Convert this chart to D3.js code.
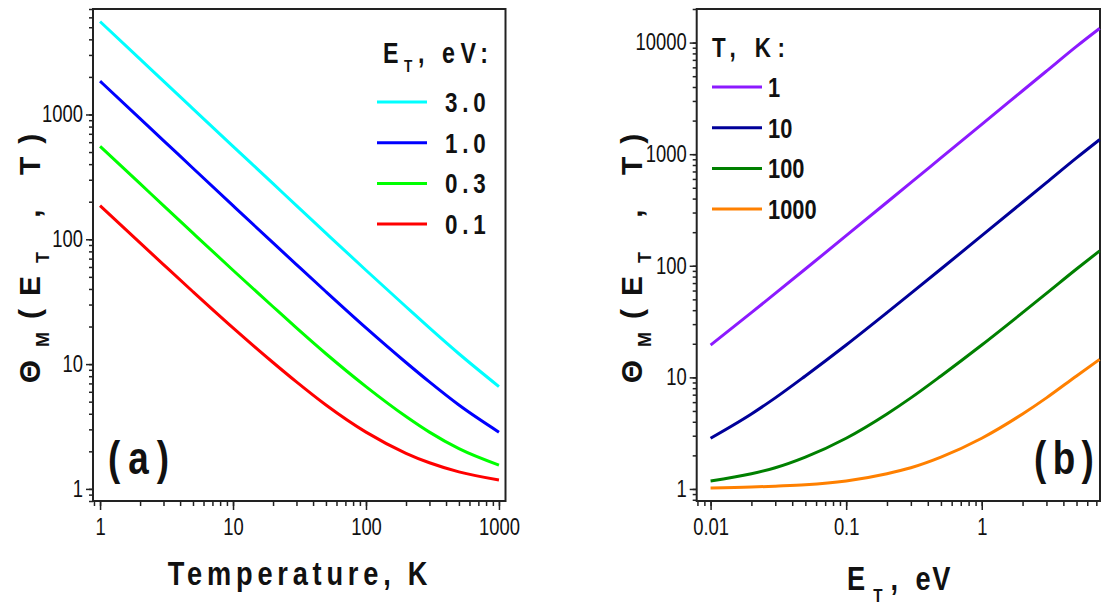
<!DOCTYPE html>
<html><head><meta charset="utf-8">
<script src="https://cdn.jsdelivr.net/npm/d3@7"></script>
<style>
body{margin:0;background:#fff;}
svg{display:block;}
.tick text{font-family:"Liberation Sans","Arial",sans-serif;font-size:23px;fill:#111;}
.bold{font-family:"Liberation Sans","Arial",sans-serif;font-weight:bold;fill:#111;}
.ylab{font-family:"Liberation Sans","Arial",sans-serif;font-weight:bold;fill:#111;}
</style></head>
<body>
<script>
// ---- data ----
const tempK = [1,2,3,5,10,20,30,50,100,200,300,500,1000];
const thetaE30 = [5550,2780,1850,1110,556,279,186,112,56.5,28.8,19.5,12.1,6.6];
const thetaE10 = [1850,926,618,371,186,93.5,62.7,38,19.5,10.3,7.2,4.7,2.85];
const thetaE03 = [556,279,186,112,56.5,28.8,19.5,12.1,6.6,3.8,2.85,2.1,1.55];
const thetaE01 = [186,93.5,62.7,38,19.5,10.3,7.2,4.7,2.85,1.93,1.62,1.37,1.18];
const legendA = ["3.0","1.0","0.3","0.1"];

const energyEV = [0.01,0.02,0.03,0.05,0.1,0.2,0.3,0.5,1,2,3,5,7.4];
const thetaT1 = [19.5,38,56.5,93.5,186,371,556,926,1850,3700,5550,9250,13400];
const thetaT10 = [2.85,4.7,6.55,10.3,19.5,38,56.5,93.5,186,371,556,926,1350];
const thetaT100 = [1.18,1.37,1.55,1.93,2.85,4.7,6.55,10.3,19.5,38,56.5,93.5,136];
const thetaT1000 = [1.02,1.04,1.06,1.09,1.18,1.37,1.55,1.93,2.85,4.7,6.55,10.3,14.5];
const legendB = ["1","10","100","1000"];

const xTicksA = [1,10,100,1000];
const yTicksA = [1,10,100,1000];
const xTicksB = [0.01,0.1,1];
const yTicksB = [1,10,100,1000,10000];

const colorsA = ["#00ffff","#0000ff","#00ff00","#ff0000"];
const colorsB = ["#8c1aff","#000099","#008000","#ff8000"];

const W = 1103, H = 606;
const SX = 0.8; // horizontal condensing of the narrow typeface
const svg = d3.select("body").append("svg").attr("width", W).attr("height", H);

function minorTicks(domain){
  const out=[];
  const lo=Math.floor(Math.log10(domain[0])), hi=Math.ceil(Math.log10(domain[1]));
  for(let e=lo;e<=hi;e++){for(let m=1;m<10;m++){const v=m*Math.pow(10,e); if(v>=domain[0]*0.999 && v<=domain[1]*1.001) out.push(v);}}
  return out;
}
function condenseTicks(sel){
  sel.selectAll(".tick text").each(function(){
    const t=d3.select(this); const x=+(t.attr("x")||0);
    t.attr("x", x/SX).attr("transform",`scale(${SX},1)`);
  });
}
function ctext(parent,x,y,sx){
  return parent.append("g").attr("transform",`translate(${x},${y}) scale(${sx||SX},1)`)
    .append("text").attr("class","bold");
}

function panel(cfg){
  const g = svg.append("g");
  const x = d3.scaleLog().domain(cfg.xDomain).range(cfg.xRange);
  const y = d3.scaleLog().domain(cfg.yDomain).range(cfg.yRange);
  g.append("g").attr("transform",`translate(0,${cfg.yRange[0]})`)
    .call(d3.axisBottom(x).tickValues(minorTicks(cfg.xDomain)).tickSize(5).tickFormat(""))
    .call(a=>a.select(".domain").remove()).selectAll("line").attr("stroke","#222").attr("stroke-width",1.5);
  g.append("g").attr("transform",`translate(${cfg.xRange[0]},0)`)
    .call(d3.axisLeft(y).tickValues(minorTicks(cfg.yDomain)).tickSize(4).tickFormat(""))
    .call(a=>a.select(".domain").remove()).selectAll("line").attr("stroke","#222").attr("stroke-width",1.5);
  const xa = g.append("g").attr("transform",`translate(0,${cfg.yRange[0]})`)
    .call(d3.axisBottom(x).tickValues(cfg.xTicks).tickSize(9).tickPadding(9).tickFormat(d=>String(d)));
  xa.select(".domain").remove();
  xa.selectAll("line").attr("stroke","#222").attr("stroke-width",1.5);
  condenseTicks(xa);
  const ya = g.append("g").attr("transform",`translate(${cfg.xRange[0]},0)`)
    .call(d3.axisLeft(y).tickValues(cfg.yTicks).tickSize(7).tickPadding(3).tickFormat(d=>String(d)));
  ya.select(".domain").remove();
  ya.selectAll("line").attr("stroke","#222").attr("stroke-width",1.5);
  condenseTicks(ya);
  g.append("rect").attr("x",cfg.xRange[0]).attr("y",cfg.yRange[1])
    .attr("width",cfg.xRange[1]-cfg.xRange[0]).attr("height",cfg.yRange[0]-cfg.yRange[1])
    .attr("fill","none").attr("stroke","#222").attr("stroke-width",2);
  const line = d3.line().x((d,i)=>x(cfg.xs[i])).y(d=>y(d)).curve(d3.curveMonotoneX);
  cfg.series.forEach((s,i)=>{
    g.append("path").datum(s).attr("d",line).attr("fill","none")
      .attr("stroke",cfg.colors[i]).attr("stroke-width",3);
  });
  return {g,x,y};
}

const A = panel({xDomain:[0.885,1120], xRange:[93,505.5], yDomain:[0.8,7000], yRange:[501,9],
  xTicks:xTicksA, yTicks:yTicksA, xs:tempK, series:[thetaE30,thetaE10,thetaE03,thetaE01], colors:colorsA});
const B = panel({xDomain:[0.0079,7.45], xRange:[696.7,1100], yDomain:[0.78,20000], yRange:[501,9],
  xTicks:xTicksB, yTicks:yTicksB, xs:energyEV, series:[thetaT1,thetaT10,thetaT100,thetaT1000], colors:colorsB});

// legend A
const ta = ctext(A.g,383,63).attr("font-size",29).attr("letter-spacing",7);
ta.append("tspan").text("E");
ta.append("tspan").attr("font-size",17).attr("dy",9).text("T");
ta.append("tspan").attr("dy",-9).text(", eV:");
legendA.forEach((lab,i)=>{
  const yy = 102 + i*40.7;
  A.g.append("line").attr("x1",377).attr("x2",427).attr("y1",yy).attr("y2",yy).attr("stroke",colorsA[i]).attr("stroke-width",3);
  ctext(A.g,445,yy+10).attr("font-size",28).attr("letter-spacing",6).text(lab);
});
// legend B
ctext(B.g,712,57).attr("font-size",28).attr("letter-spacing",8).text("T, K:");
legendB.forEach((lab,i)=>{
  const yy = 87 + i*40.7;
  B.g.append("line").attr("x1",712).attr("x2",762).attr("y1",yy).attr("y2",yy).attr("stroke",colorsB[i]).attr("stroke-width",3);
  ctext(B.g,768,yy+10,0.78).attr("font-size",28).text(lab);
});

// panel labels
ctext(svg,108,474).attr("font-size",46).attr("letter-spacing",10).text("(a)");
ctext(svg,1034,474).attr("font-size",46).attr("letter-spacing",8).text("(b)");

// x titles
ctext(svg,300,585).attr("text-anchor","middle").attr("font-size",34).attr("letter-spacing",6).text("Temperature, K");
const xt = ctext(svg,847,590).attr("font-size",34);
xt.append("tspan").text("E");
xt.append("tspan").attr("font-size",19).attr("dx",10).attr("dy",12).text("T");
xt.append("tspan").attr("dy",-12).attr("dx",10).text(",");
xt.append("tspan").attr("dx",22).attr("letter-spacing",2).text("eV");

// y titles
function yTitle(cx, cy){
  const t = svg.append("text").attr("class","ylab").attr("transform",`translate(${cx},${cy}) rotate(-90)`)
    .attr("text-anchor","middle").attr("font-size",30).attr("letter-spacing",13);
  t.append("tspan").text("Θ");
  t.append("tspan").attr("font-size",18).attr("dy",9).text("M");
  t.append("tspan").attr("dy",-9).text("(E");
  t.append("tspan").attr("font-size",18).attr("dy",9).text("T");
  t.append("tspan").attr("dy",-9).text(" ,  T)");
}
yTitle(40, 252);
yTitle(642, 252);
</script>
</body></html>
